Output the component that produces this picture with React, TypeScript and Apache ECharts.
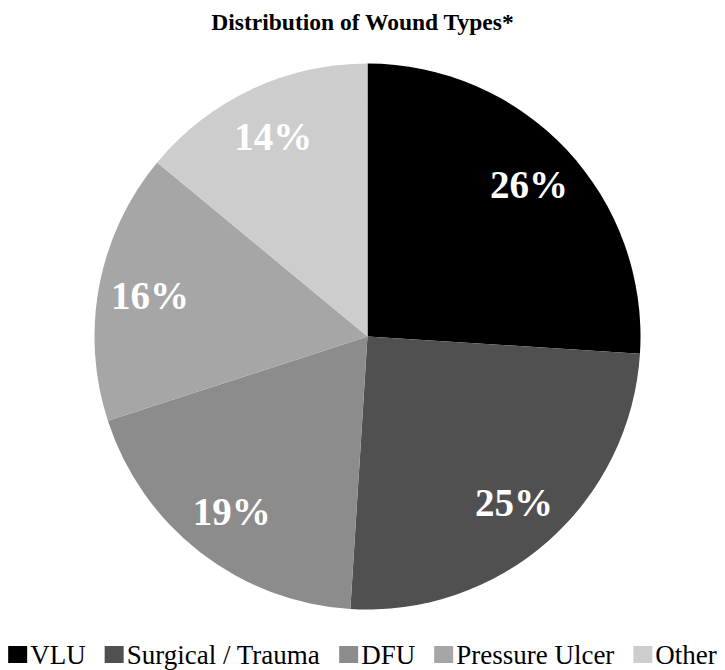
import React, { useEffect, useRef } from "react";
import * as echarts from "echarts";

const categories = ["VLU", "Surgical / Trauma", "DFU", "Pressure Ulcer", "Other"];
const values = [26, 25, 19, 16, 14];
const colors = ["#000000", "#505050", "#8c8c8c", "#a6a6a6", "#cdcdcd"];
const titleText = "Distribution of Wound Types*";

export default function App() {
  const ref = useRef<HTMLDivElement>(null);
  useEffect(() => {
    if (!ref.current) return;
    const chart = echarts.init(ref.current, null, { renderer: "svg" });
    const data = categories.map((name, i) => ({ name, value: values[i] }));
    const center = [367.5, 336.5];
    const R = 273;
    chart.setOption({
      animation: false,
      backgroundColor: "#ffffff",
      color: colors,
      title: {
        text: titleText,
        left: "center",
        top: 5,
        textStyle: {
          fontFamily: "Liberation Serif",
          fontWeight: "bold",
          fontSize: 23.5,
          color: "#000000",
        },
      },
      legend: {
        data: categories,
        top: 636,
        left: "center",
        padding: 5,
        icon: "rect",
        itemWidth: 19,
        itemHeight: 17,
        itemGap: 19,
        textStyle: {
          fontFamily: "Liberation Serif",
          fontSize: 27,
          color: "#000000",
          padding: [0, 0, 0, -2],
        },
      },
      series: [
        {
          type: "pie",
          center,
          radius: [0, R],
          startAngle: 90,
          clockwise: true,
          silent: true,
          label: { show: false },
          labelLine: { show: false },
          data,
        },
        {
          type: "pie",
          center,
          radius: [R * 0.6, R],
          startAngle: 90,
          clockwise: true,
          silent: true,
          itemStyle: { color: "rgba(0,0,0,0)" },
          label: {
            show: true,
            position: "inside",
            formatter: "{c}%",
            fontFamily: "Liberation Serif",
            fontWeight: "bold",
            fontSize: 39,
            color: "#ffffff",
          },
          labelLine: { show: false },
          data,
        },
      ],
    });
    return () => chart.dispose();
  }, []);
  return (
    <div
      ref={ref}
      style={{ position: "fixed", left: 0, top: 0, width: 725, height: 670 }}
    />
  );
}
